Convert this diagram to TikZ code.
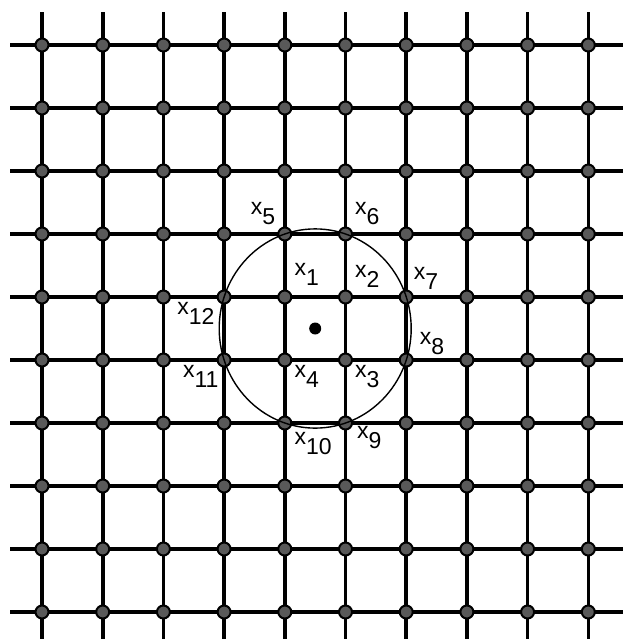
\documentclass[tikz,border=0pt]{standalone}
\usepackage{fontspec}
\setmainfont{Liberation Sans}
\usetikzlibrary{positioning}
\newcommand{\xsub}[1]{x\raisebox{-0.42em}{#1}}

\begin{document}
\begin{tikzpicture}[x=0.5pt, y=-0.5pt,
  site/.style={circle, draw=black, fill=black!65, line width=1pt,
               minimum size=6.5pt, inner sep=0pt},
  bond/.style={line width=1.8pt},
  lab/.style={font=\fontsize{11.5}{13}\selectfont, inner sep=0pt},
  centre/.style={circle, fill=black, minimum size=6pt, inner sep=0pt},
]
\useasboundingbox (0,0) rectangle (623,639);

% lattice lines
\foreach \i in {0,...,9}{
  \coordinate (top-\i) at ({42+60.7*\i},12);
  \coordinate (bot-\i) at ({42+60.7*\i},639);
  \coordinate (lft-\i) at (10,{45+63*\i});
  \coordinate (rgt-\i) at (623,{45+63*\i});
  \draw[bond] (top-\i) -- (bot-\i);
  \draw[bond] (lft-\i) -- (rgt-\i);
}

% lattice sites
\foreach \i in {1,...,10}
  \foreach \j in {1,...,10}
    \node[site] (s-\i-\j) at ({42+60.7*(\i-1)},{45+63*(\j-1)}) {};

% interpolation point and its neighbourhood
\node[centre] (c) at (315.2,328.5) {};
\draw[line width=0.7pt] (c) ellipse [x radius=96, y radius=99.6];

\node[lab, above left=2pt and 2pt of s-5-4] (l5) {\xsub{5}};
\node[lab, above right=2pt and 2pt of s-6-4] (l6) {\xsub{6}};
\node[lab, above right=3pt and 2pt of s-5-5] (l1) {\xsub{1}};
\node[lab, above right=2pt and 2pt of s-6-5] (l2) {\xsub{2}};
\node[lab, above right=1pt and 1pt of s-7-5] (l7) {\xsub{7}};
\node[lab, below left=0pt and 2pt of s-4-5] (l12) {\xsub{12}};
\node[lab, above right=0pt and 4pt of s-7-6] (l8) {\xsub{8}};
\node[lab, below left=0pt and 0pt of s-4-6] (l11) {\xsub{11}};
\node[lab, below right=0pt and 2pt of s-5-6] (l4) {\xsub{4}};
\node[lab, below right=0pt and 2pt of s-6-6] (l3) {\xsub{3}};
\node[lab, below right=2pt and 2pt of s-5-7] (l10) {\xsub{10}};
\node[lab, below right=-1pt and 3pt of s-6-7] (l9) {\xsub{9}};
\end{tikzpicture}
\end{document}
